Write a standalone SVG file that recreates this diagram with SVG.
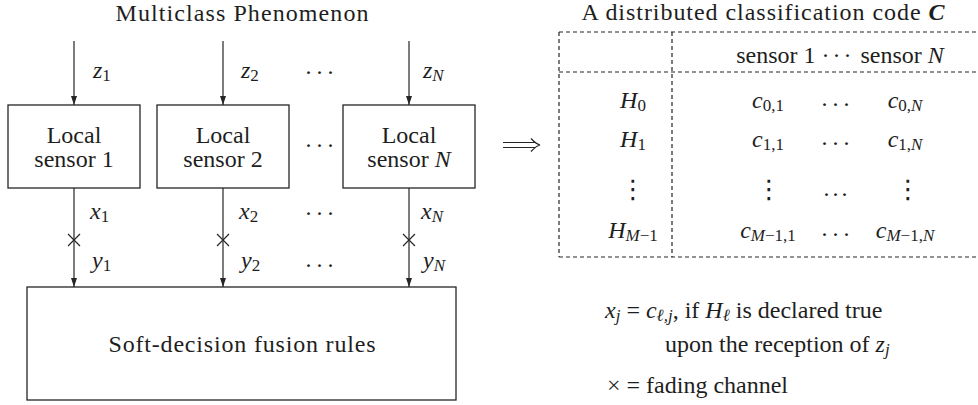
<svg xmlns="http://www.w3.org/2000/svg" width="978" height="405" viewBox="0 0 978 405" font-family="'Liberation Serif', 'Times New Roman', Times, 'DejaVu Serif', 'Noto Serif', serif">
  <style>
    text { font-family: "Liberation Serif", "Times New Roman", Times, "Nimbus Roman", "DejaVu Serif", "Noto Serif", serif; font-size: 24px; fill: #1e1e1e; }
    .c { text-anchor: middle; }
    .i { font-style: italic; }
    .sb { font-size: 17px; font-style: normal; }
    .si { font-size: 17px; font-style: italic; }
    .dots { font-size: 24px; letter-spacing: 3px; }
    .vd { font-family: "DejaVu Sans", "DejaVu Serif", sans-serif; font-size: 26px; text-anchor: middle; }
    .box { fill: #fff; stroke: #262626; stroke-width: 1.3; }
    .wire { fill: none; stroke: #262626; stroke-width: 1.2; }
    .dash { fill: none; stroke: #262626; stroke-width: 1.2; stroke-dasharray: 4 3; }
  </style>
  <defs>
    <marker id="head" markerWidth="9" markerHeight="6" refX="9" refY="3" orient="auto" markerUnits="userSpaceOnUse">
      <path d="M0,0 L9,3 L0,6 z" fill="#262626"/>
    </marker>
  </defs>

  <!-- title of the left part -->
  <text class="c" x="242" y="21" textLength="253" lengthAdjust="spacing">Multiclass Phenomenon</text>

  <!-- connectors: observations in, channel outputs to the fusion centre -->
  <g id="connectors">
    <line class="wire" x1="74" y1="41" x2="74" y2="105" marker-end="url(#head)"/>
    <line class="wire" x1="223" y1="41" x2="223" y2="105" marker-end="url(#head)"/>
    <line class="wire" x1="409" y1="41" x2="409" y2="105" marker-end="url(#head)"/>
    <line class="wire" x1="74" y1="188" x2="74" y2="287" marker-end="url(#head)"/>
    <line class="wire" x1="223" y1="188" x2="223" y2="287" marker-end="url(#head)"/>
    <line class="wire" x1="409" y1="188" x2="409" y2="287" marker-end="url(#head)"/>
    <!-- fading channel crosses -->
    <path class="wire" d="M68,234 l12,12 M80,234 l-12,12"/>
    <path class="wire" d="M217,234 l12,12 M229,234 l-12,12"/>
    <path class="wire" d="M403,234 l12,12 M415,234 l-12,12"/>
    <!-- signal labels -->
    <text class="i" x="93" y="78">z<tspan class="sb" dy="3">1</tspan></text>
    <text class="i" x="241" y="78">z<tspan class="sb" dy="3">2</tspan></text>
    <text class="i" x="423" y="78">z<tspan class="si" dy="3">N</tspan></text>
    <text class="i" x="90" y="219">x<tspan class="sb" dy="3">1</tspan></text>
    <text class="i" x="239" y="219">x<tspan class="sb" dy="3">2</tspan></text>
    <text class="i" x="421" y="219">x<tspan class="si" dy="3">N</tspan></text>
    <text class="i" x="92" y="268">y<tspan class="sb" dy="3">1</tspan></text>
    <text class="i" x="241" y="268">y<tspan class="sb" dy="3">2</tspan></text>
    <text class="i" x="423" y="268">y<tspan class="si" dy="3">N</tspan></text>
    <text class="dots c" x="321" y="80">···</text>
    <text class="dots c" x="321" y="153">···</text>
    <text class="dots c" x="321" y="221">···</text>
    <text class="dots c" x="321" y="273">···</text>
  </g>

  <g id="sensor1">
    <rect class="box" x="8" y="105" width="132" height="83"/>
    <text class="c" x="74" y="143">Local</text>
    <text class="c" x="74" y="167">sensor 1</text>
  </g>
  <g id="sensor2">
    <rect class="box" x="157" y="105" width="132" height="83"/>
    <text class="c" x="223" y="143">Local</text>
    <text class="c" x="223" y="167">sensor 2</text>
  </g>
  <g id="sensorN">
    <rect class="box" x="343" y="105" width="132" height="83"/>
    <text class="c" x="409" y="143">Local</text>
    <text class="c" x="409" y="167">sensor <tspan class="i">N</tspan></text>
  </g>
  <g id="fusion">
    <rect class="box" x="27" y="287" width="429" height="113"/>
    <text class="c" x="242" y="352" textLength="267" lengthAdjust="spacing">Soft-decision fusion rules</text>
  </g>

  <!-- implies arrow -->
  <g id="implies">
    <path class="wire" d="M503,142.5 H535 M503,147.5 H535"/>
    <path class="wire" d="M531,138.5 Q536,144 540,145 Q536,146 531,151.5"/>
  </g>

  <!-- code matrix -->
  <g id="code-table">
    <text class="c" x="763" y="20" textLength="363" lengthAdjust="spacing">A distributed classification code <tspan style="font-weight:bold;font-style:italic">C</tspan></text>
    <path class="dash" d="M559,32 H978 M559,72 H978 M559,257 H978 M559,32 V257 M672,32 V257"/>
    <text class="c" x="840" y="63">sensor 1 <tspan class="dots">···</tspan> sensor <tspan class="i">N</tspan></text>

    <text class="c i" x="633" y="108">H<tspan class="sb" dy="3">0</tspan></text>
    <text class="c i" x="633" y="147">H<tspan class="sb" dy="3">1</tspan></text>
    <text class="vd" x="633" y="198">⋮</text>
    <text class="c i" x="633" y="238">H<tspan class="si" dy="3">M</tspan><tspan class="sb">−1</tspan></text>

    <text class="c i" x="768" y="108">c<tspan class="sb" dy="3">0,1</tspan></text>
    <text class="c i" x="768" y="147">c<tspan class="sb" dy="3">1,1</tspan></text>
    <text class="vd" x="769" y="198">⋮</text>
    <text class="c i" x="768" y="238">c<tspan class="si" dy="3">M</tspan><tspan class="sb">−1,1</tspan></text>

    <text class="dots c" x="837" y="112">···</text>
    <text class="dots c" x="837" y="151">···</text>
    <text class="dots c" x="837" y="196">...</text>
    <text class="dots c" x="837" y="242">···</text>

    <text class="c i" x="905" y="108">c<tspan class="sb" dy="3">0,</tspan><tspan class="si">N</tspan></text>
    <text class="c i" x="905" y="147">c<tspan class="sb" dy="3">1,</tspan><tspan class="si">N</tspan></text>
    <text class="vd" x="908" y="198">⋮</text>
    <text class="c i" x="905" y="238">c<tspan class="si" dy="3">M</tspan><tspan class="sb">−1,</tspan><tspan class="si">N</tspan></text>
  </g>

  <!-- legend -->
  <g id="legend">
    <text x="605" y="318"><tspan class="i">x</tspan><tspan class="si" dy="3">j</tspan><tspan dy="-3"> = </tspan><tspan class="i">c</tspan><tspan class="si" dy="3">ℓ,j</tspan><tspan dy="-3">, if </tspan><tspan class="i">H</tspan><tspan class="si" dy="3">ℓ</tspan><tspan dy="-3"> is declared true</tspan></text>
    <text x="665" y="352">upon the reception of <tspan class="i">z</tspan><tspan class="si" dy="3">j</tspan></text>
    <text x="607" y="393">× = fading channel</text>
  </g>
</svg>
